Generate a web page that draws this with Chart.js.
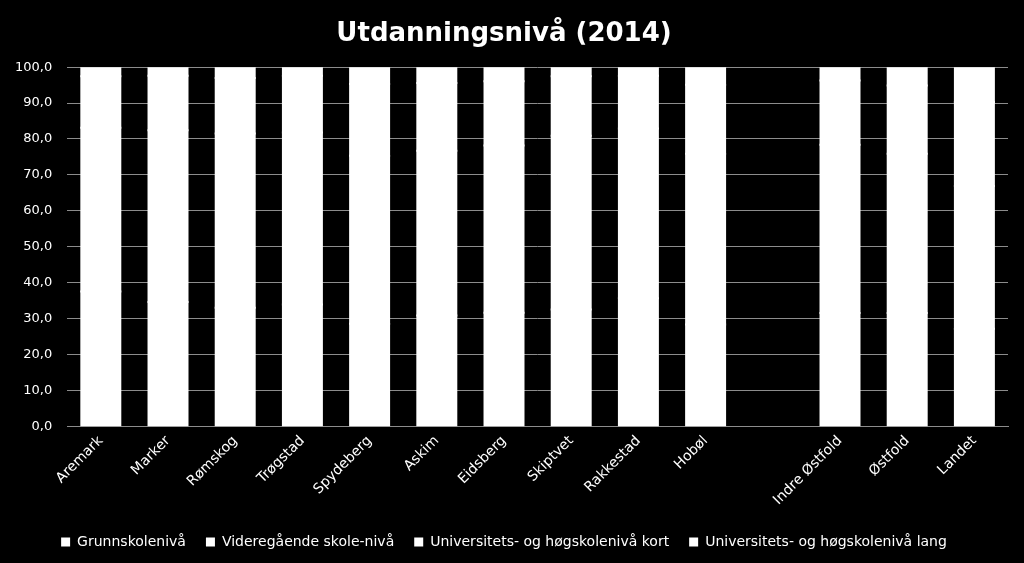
<!DOCTYPE html>
<html>
<head>
<meta charset="utf-8">
<script src="https://cdn.jsdelivr.net/npm/chart.js@4/dist/chart.umd.min.js"></script>
<style>
  html, body { margin: 0; padding: 0; background: #000; }
  #wrap { width: 1024px; height: 563px; }
</style>
</head>
<body>
<div id="wrap"><canvas id="chart"></canvas></div>
<script>
const categories = ['Aremark', 'Marker', 'Rømskog', 'Trøgstad', 'Spydeberg', 'Askim', 'Eidsberg',
    'Skiptvet', 'Rakkestad', 'Hobøl', '', 'Indre Østfold', 'Østfold', 'Landet'];
const seriesNames = ['Grunnskolenivå', 'Videregående skole-nivå',
    'Universitets- og høgskolenivå kort', 'Universitets- og høgskolenivå lang'];
const grunnskole = [37.5, 34.6, 33.0, 33.9, 28.5, 30.8, 31.6, 32.5, 35.6, 28.3, null, 31.5, 31.5, 27.1];
const videregaende = [45.6, 47.8, 48.5, 47.9, 46.8, 45.9, 46.6, 48.4, 47.3, 47.6, null, 46.9, 44.4, 39.8];
const hoyereKort = [14.4, 15.2, 15.5, 15.8, 20.0, 18.9, 17.9, 16.6, 14.7, 19.2, null, 17.9, 19.0, 23.4];
const hoyereLang = [2.5, 2.4, 3.0, 2.4, 4.7, 4.4, 3.9, 2.5, 2.4, 4.9, null, 3.7, 5.1, 9.7];
const yTicks = [0, 10, 20, 30, 40, 50, 60, 70, 80, 90, 100];

const font = 'DejaVu Sans';
const allSeries = [grunnskole, videregaende, hoyereKort, hoyereLang];

new Chart(document.getElementById('chart'), {
    type: 'bar',
    data: {
        labels: categories,
        datasets: allSeries.map((values, i) => ({
            label: seriesNames[i],
            data: values,
            backgroundColor: '#ffffff',
            borderWidth: 0,
            inflateAmount: 1,
            categoryPercentage: 1,
            barPercentage: 0.58
        }))
    },
    options: {
        responsive: true,
        maintainAspectRatio: false,
        animation: false,
        layout: { padding: { left: 0, right: 16, top: 4, bottom: 4 } },
        plugins: {
            title: {
                display: true,
                text: 'Utdanningsnivå (2014)',
                color: '#ffffff',
                font: { family: font, size: 26, weight: 'bold' },
                padding: { top: 15, bottom: 17 }
            },
            legend: {
                position: 'bottom',
                labels: {
                    color: '#ffffff',
                    font: { family: font, size: 14 },
                    boxWidth: 9,
                    boxHeight: 9,
                    padding: 20
                }
            },
            tooltip: { enabled: false }
        },
        scales: {
            x: {
                stacked: true,
                grid: { display: false, drawTicks: false },
                border: { color: '#8c8c8c', width: 1 },
                ticks: {
                    color: '#ffffff',
                    font: { family: font, size: 14 },
                    minRotation: 45,
                    maxRotation: 45,
                    autoSkip: false,
                    padding: 6.5
                }
            },
            y: {
                stacked: true,
                min: 0,
                max: 100,
                afterBuildTicks: axis => { axis.ticks = yTicks.map(v => ({ value: v })); },
                grid: { color: '#8c8c8c', drawTicks: false },
                border: { display: false },
                ticks: {
                    color: '#ffffff',
                    font: { family: font, size: 13 },
                    padding: 15,
                    callback: v => v.toFixed(1).replace('.', ',')
                }
            }
        }
    }
});
</script>
</body>
</html>
